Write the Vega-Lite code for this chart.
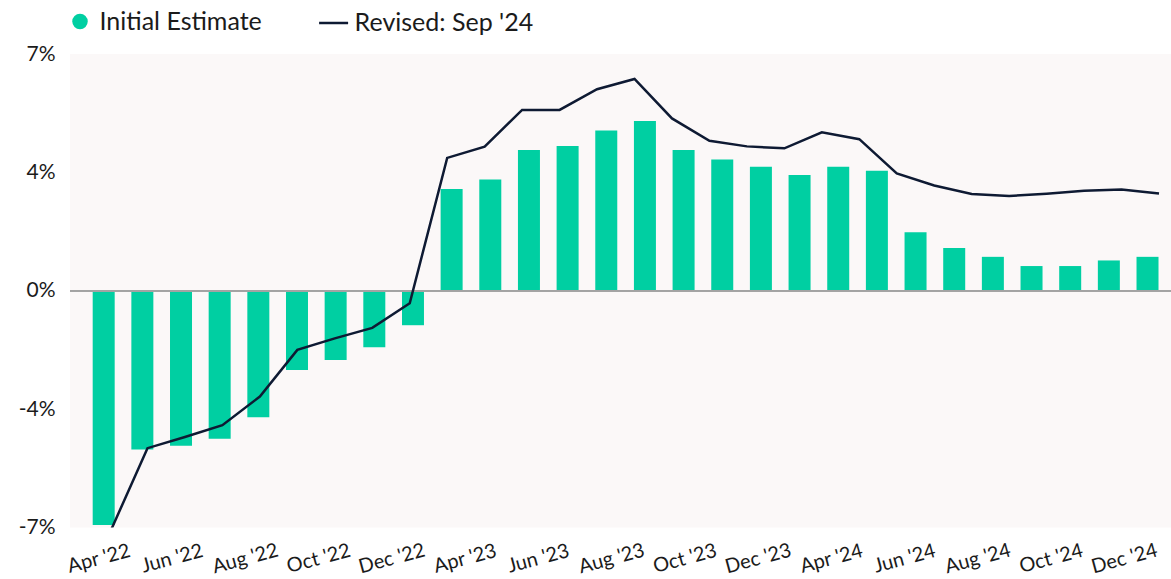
{
  "$schema": "https://vega.github.io/schema/vega-lite/v6.json",
  "width": 1101,
  "height": 473.4,
  "autosize": {"type": "none"},
  "padding": {"left": 70, "top": 54, "right": 0, "bottom": 51.6},
  "background": "white",
  "config": {
    "view": {"fill": "#fbf8f8", "stroke": null},
    "font": "Lato"
  },
  "datasets": {
    "bars": [
      {"n": 1, "value": -7.13, "series": "Initial Estimate"},
      {"n": 2, "value": -4.83, "series": "Initial Estimate"},
      {"n": 3, "value": -4.72, "series": "Initial Estimate"},
      {"n": 4, "value": -4.50, "series": "Initial Estimate"},
      {"n": 5, "value": -3.85, "series": "Initial Estimate"},
      {"n": 6, "value": -2.41, "series": "Initial Estimate"},
      {"n": 7, "value": -2.11, "series": "Initial Estimate"},
      {"n": 8, "value": -1.72, "series": "Initial Estimate"},
      {"n": 9, "value": -1.05, "series": "Initial Estimate"},
      {"n": 10, "value": 3.09, "series": "Initial Estimate"},
      {"n": 11, "value": 3.38, "series": "Initial Estimate"},
      {"n": 12, "value": 4.28, "series": "Initial Estimate"},
      {"n": 13, "value": 4.40, "series": "Initial Estimate"},
      {"n": 14, "value": 4.87, "series": "Initial Estimate"},
      {"n": 15, "value": 5.16, "series": "Initial Estimate"},
      {"n": 16, "value": 4.28, "series": "Initial Estimate"},
      {"n": 17, "value": 3.99, "series": "Initial Estimate"},
      {"n": 18, "value": 3.77, "series": "Initial Estimate"},
      {"n": 19, "value": 3.52, "series": "Initial Estimate"},
      {"n": 20, "value": 3.77, "series": "Initial Estimate"},
      {"n": 21, "value": 3.65, "series": "Initial Estimate"},
      {"n": 22, "value": 1.78, "series": "Initial Estimate"},
      {"n": 23, "value": 1.30, "series": "Initial Estimate"},
      {"n": 24, "value": 1.03, "series": "Initial Estimate"},
      {"n": 25, "value": 0.75, "series": "Initial Estimate"},
      {"n": 26, "value": 0.75, "series": "Initial Estimate"},
      {"n": 27, "value": 0.92, "series": "Initial Estimate"},
      {"n": 28, "value": 1.03, "series": "Initial Estimate"}
    ],
    "line": [
      {"j": 0, "value": -7.35, "series": "Revised: Sep '24"},
      {"j": 1, "value": -4.79, "series": "Revised: Sep '24"},
      {"j": 2, "value": -4.45, "series": "Revised: Sep '24"},
      {"j": 3, "value": -4.09, "series": "Revised: Sep '24"},
      {"j": 4, "value": -3.22, "series": "Revised: Sep '24"},
      {"j": 5, "value": -1.80, "series": "Revised: Sep '24"},
      {"j": 6, "value": -1.45, "series": "Revised: Sep '24"},
      {"j": 7, "value": -1.13, "series": "Revised: Sep '24"},
      {"j": 8, "value": -0.38, "series": "Revised: Sep '24"},
      {"j": 9, "value": 4.04, "series": "Revised: Sep '24"},
      {"j": 10, "value": 4.38, "series": "Revised: Sep '24"},
      {"j": 11, "value": 5.50, "series": "Revised: Sep '24"},
      {"j": 12, "value": 5.50, "series": "Revised: Sep '24"},
      {"j": 13, "value": 6.13, "series": "Revised: Sep '24"},
      {"j": 14, "value": 6.44, "series": "Revised: Sep '24"},
      {"j": 15, "value": 5.24, "series": "Revised: Sep '24"},
      {"j": 16, "value": 4.56, "series": "Revised: Sep '24"},
      {"j": 17, "value": 4.39, "series": "Revised: Sep '24"},
      {"j": 18, "value": 4.33, "series": "Revised: Sep '24"},
      {"j": 19, "value": 4.82, "series": "Revised: Sep '24"},
      {"j": 20, "value": 4.61, "series": "Revised: Sep '24"},
      {"j": 21, "value": 3.57, "series": "Revised: Sep '24"},
      {"j": 22, "value": 3.20, "series": "Revised: Sep '24"},
      {"j": 23, "value": 2.94, "series": "Revised: Sep '24"},
      {"j": 24, "value": 2.88, "series": "Revised: Sep '24"},
      {"j": 25, "value": 2.95, "series": "Revised: Sep '24"},
      {"j": 26, "value": 3.04, "series": "Revised: Sep '24"},
      {"j": 27, "value": 3.08, "series": "Revised: Sep '24"},
      {"j": 28, "value": 2.96, "series": "Revised: Sep '24"}
    ],
    "ticks": [
      {"label": "Apr '22"}, {"label": "Jun '22"}, {"label": "Aug '22"}, {"label": "Oct '22"},
      {"label": "Dec '22"}, {"label": "Apr '23"}, {"label": "Jun '23"}, {"label": "Aug '23"},
      {"label": "Oct '23"}, {"label": "Dec '23"}, {"label": "Apr '24"}, {"label": "Jun '24"},
      {"label": "Aug '24"}, {"label": "Oct '24"}, {"label": "Dec '24"}
    ]
  },
  "layer": [
    {
      "data": {"name": "bars"},
      "mark": {"type": "bar"},
      "encoding": {
        "x": {
          "field": "n", "type": "ordinal", "axis": null,
          "scale": {"type": "band", "paddingInner": 0.431, "paddingOuter": 0.455, "align": 0.645, "round": false}
        },
        "y": {
          "field": "value", "type": "quantitative",
          "scale": {"domain": [-7.2, 7.2], "nice": false, "zero": false},
          "axis": {
            "title": null, "values": [-7.2, -3.6, 0, 3.6, 7.2],
            "labelExpr": "round(datum.value) + '%'",
            "grid": false, "ticks": false, "domain": false,
            "labelFontSize": 21, "labelColor": "#1b1b1b", "labelFont": "Lato",
            "labelPadding": 15
          }
        },
        "fill": {
          "field": "series", "type": "nominal",
          "scale": {"range": ["#00cfa2"]},
          "legend": {
            "orient": "none", "legendX": -2.5, "legendY": -45, "title": null,
            "symbolType": "circle", "symbolSize": 240, "symbolStrokeWidth": 0,
            "labelFontSize": 25, "labelFont": "Lato", "labelColor": "#1b1b1b",
            "labelOffset": 7, "labelLimit": 400, "padding": 0
          }
        }
      }
    },
    {
      "data": {"name": "bars"},
      "mark": {"type": "rule", "color": "#a3a3a3", "strokeWidth": 1.5},
      "encoding": {
        "y": {"datum": 0, "type": "quantitative"}
      }
    },
    {
      "data": {"name": "line"},
      "mark": {"type": "line", "clip": true, "strokeWidth": 2.5},
      "encoding": {
        "x": {
          "field": "j", "type": "quantitative", "axis": null,
          "scale": {"domain": [-1.068, 28.32], "nice": false, "zero": false}
        },
        "y": {"field": "value", "type": "quantitative"},
        "stroke": {
          "field": "series", "type": "nominal",
          "scale": {"range": ["#0e1a33"]},
          "legend": {
            "orient": "none", "legendX": 247.6, "legendY": -47, "title": null,
            "symbolType": "stroke", "symbolSize": 841, "symbolStrokeWidth": 2.5,
            "labelFontSize": 25, "labelFont": "Lato", "labelColor": "#1b1b1b",
            "labelOffset": 5, "labelLimit": 400, "padding": 0
          }
        }
      }
    },
    {
      "data": {"name": "ticks"},
      "mark": {"type": "rule", "strokeOpacity": 0},
      "encoding": {
        "x": {
          "field": "label", "type": "ordinal", "sort": null,
          "scale": {"type": "point", "padding": 0.515, "align": 0.377},
          "axis": {
            "orient": "bottom", "title": null, "ticks": false, "domain": false, "grid": false,
            "labelAngle": -15, "labelAlign": "center", "labelBaseline": "middle",
            "labelPadding": 31, "labelFontSize": 20, "labelFont": "Lato",
            "labelColor": "#1b1b1b", "labelOverlap": false
          }
        }
      }
    }
  ],
  "resolve": {"scale": {"x": "independent"}}
}
